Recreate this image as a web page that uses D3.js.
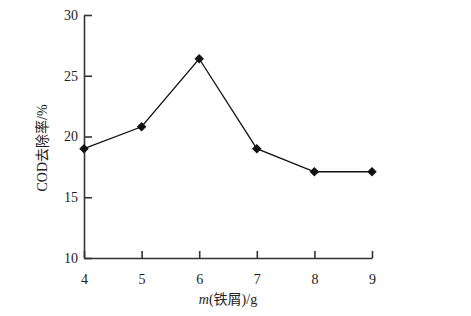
<!DOCTYPE html>
<html>
<head>
<meta charset="utf-8">
<script src="https://cdn.jsdelivr.net/npm/d3@7"></script>
<style>
  body { margin: 0; background: #fff; }
  svg text { font-family: "Liberation Serif", "Noto Sans CJK SC", serif; fill: #222; }
</style>
</head>
<body>
<svg id="chart" width="471" height="316"></svg>
<script>
// iron mass (g) vs COD removal (%)
var ironMass = [4, 5, 6, 7, 8, 9];
var codRemoval = [19.0, 20.8, 26.4, 19.0, 17.1, 17.1];
var yTicks = [10, 15, 20, 25, 30];

var svg = d3.select('#chart');
var margin = {left: 84, right: 99, top: 15, bottom: 58};
var width = 471 - margin.left - margin.right;
var height = 316 - margin.top - margin.bottom;

var x = d3.scaleLinear().domain([4, 9]).range([0, width]);
var y = d3.scaleLinear().domain([10, 30]).range([height, 0]);

var g = svg.append('g')
  .attr('transform', 'translate(' + margin.left + ',' + margin.top + ')');

// axes, ticks pointing inward
var xAxis = g.append('g')
  .attr('transform', 'translate(0,' + height + ')')
  .call(d3.axisBottom(x).tickValues(ironMass).tickFormat(d3.format('d'))
    .tickSizeInner(-7).tickSizeOuter(0).tickPadding(16));
var yAxis = g.append('g')
  .call(d3.axisLeft(y).tickValues(yTicks).tickSizeInner(-8)
    .tickSizeOuter(0).tickPadding(6));

[xAxis, yAxis].forEach(function(ax) {
  ax.select('.domain').attr('stroke', '#333').attr('stroke-width', 1.6);
  ax.selectAll('.tick line').attr('stroke', '#333').attr('stroke-width', 1.6);
  ax.selectAll('.tick text')
    .style('font-family', '"Liberation Serif", serif')
    .style('font-size', '14px')
    .attr('fill', '#222');
});

// line
g.append('path')
  .datum(ironMass.map(function(m, i) { return [m, codRemoval[i]]; }))
  .attr('fill', 'none')
  .attr('stroke', '#111')
  .attr('stroke-width', 1.3)
  .attr('d', d3.line()
    .x(function(d) { return x(d[0]); })
    .y(function(d) { return y(d[1]); }));

// diamond markers
var diamond = d3.symbol().type(d3.symbolDiamond2).size(58);
g.selectAll('.pt')
  .data(ironMass)
  .enter().append('path')
  .attr('class', 'pt')
  .attr('d', diamond)
  .attr('fill', '#111')
  .attr('transform', function(d, i) {
    return 'translate(' + x(d) + ',' + y(codRemoval[i]) + ')';
  });

// axis titles
var xTitle = svg.append('text')
  .attr('x', margin.left + width / 2)
  .attr('y', 304)
  .attr('text-anchor', 'middle')
  .style('font-size', '14px');
xTitle.append('tspan').style('font-style', 'italic').text('m');
xTitle.append('tspan').text('(铁屑)/g');

svg.append('text')
  .attr('transform', 'translate(47,' + (margin.top + 133) + ') rotate(-90)')
  .attr('text-anchor', 'middle')
  .style('font-size', '14px')
  .text('COD去除率/%');
</script>
</body>
</html>
